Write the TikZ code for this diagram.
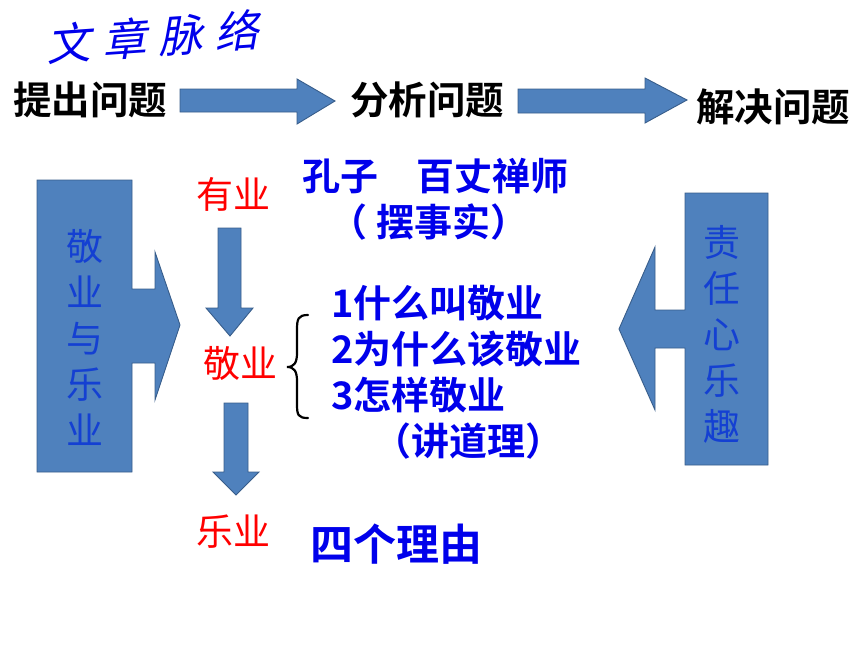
\documentclass[tikz,border=0pt]{standalone}
\usepackage{fontspec}
\newfontfamily\cjk{Noto Sans CJK SC}[BoldFont={Noto Sans CJK SC Bold}]
\newfontfamily\cjkslant{Noto Sans CJK SC}[FakeSlant=0.25]
\newcommand\fsz[1]{\fontsize{#1}{#1}\selectfont}
\definecolor{arrowfill}{RGB}{79,129,189}
\definecolor{arrowline}{RGB}{56,93,138}
\definecolor{txtblue}{RGB}{0,0,235}
\definecolor{vblue}{RGB}{20,64,210}
\definecolor{txtred}{RGB}{255,0,0}
\tikzset{
  blockarrow/.style={fill=arrowfill, draw=arrowline, line width=0.9pt, line join=miter},
  headtext/.style={font=\cjk\bfseries\fsz{38.5}, text=black, inner sep=0pt},
  bluetext/.style={font=\cjk\bfseries\fsz{38}, text=txtblue, inner sep=0pt},
  redtext/.style={font=\cjk\fsz{37}, text=txtred, inner sep=0pt},
  verttext/.style={font=\cjk\fontsize{37}{46}\selectfont, text=vblue, align=center, inner sep=0pt},
}
\begin{document}
\begin{tikzpicture}[x=1pt,y=-1pt]
\useasboundingbox (0,0) rectangle (860,645);
% title
\node[font=\cjkslant\fsz{44}, text=txtblue, rotate=4, inner sep=0pt] (title) at (152,37)
  {文\hspace{12pt}章\hspace{12pt}脉\hspace{12pt}络};
% top row
\node[headtext] (p1) at (90,100) {提出问题};
\node[headtext] (p2) at (427,100) {分析问题};
\node[headtext] (p3) at (773,107) {解决问题};
\draw[blockarrow] (180,89)--(297,89)--(297,79)--(335,101)--(297,124)--(297,112)--(180,112)--cycle;
\draw[blockarrow] (518,89)--(645,89)--(645,78)--(687,100)--(645,123)--(645,113)--(518,113)--cycle;
% left callout
\draw[blockarrow] (37,180)--(132,180)--(132,289)--(155,289)--(155,252)--(180,325)--(155,400)--(155,363)--(132,363)--(132,472)--(37,472)--cycle;
\node[verttext] (left) at (85,337) {敬\\业\\与\\乐\\业};
% right callout
\draw[blockarrow] (768,193)--(685,193)--(685,310)--(655,310)--(655,247)--(619,329)--(655,410)--(655,348)--(685,348)--(685,465)--(768,465)--cycle;
\node[verttext] (right) at (722,334) {责\\任\\心\\乐\\趣};
% red column
\node[redtext] (you) at (233,194) {有业};
\node[redtext] (jing) at (240,363) {敬业};
\node[redtext] (le) at (233,532) {乐业};
\draw[blockarrow] (218,228)--(241,228)--(241,308)--(253,308)--(230,336)--(206,308)--(218,308)--cycle;
\draw[blockarrow] (224,403)--(248,403)--(248,472)--(259,472)--(236,495)--(213,472)--(224,472)--cycle;
% brace
\draw[line width=2.2pt, line cap=round] (308,315) .. controls (298,315) and (297,319) .. (297,330) -- (297,353)
  .. controls (297,363) and (294,367) .. (287,367) .. controls (294,367) and (297,371) .. (297,381)
  -- (297,404) .. controls (297,415) and (298,418) .. (308,418);
% blue texts
\node[bluetext, anchor=west] (kz) at (302,176) {孔子　百丈禅师};
\node[bluetext] (bss) at (429,222) {（ 摆事实）};
\node[bluetext, anchor=west] (q1) at (331,303) {1什么叫敬业};
\node[bluetext, anchor=west] (q2) at (331,349) {2为什么该敬业};
\node[bluetext, anchor=west] (q3) at (331,395) {3怎样敬业};
\node[bluetext] (jdl) at (468,441) {（讲道理）};
\node[font=\cjk\bfseries\fsz{43}, text=txtblue, inner sep=0pt] (sgly) at (396,544) {四个理由};
\end{tikzpicture}
\end{document}
